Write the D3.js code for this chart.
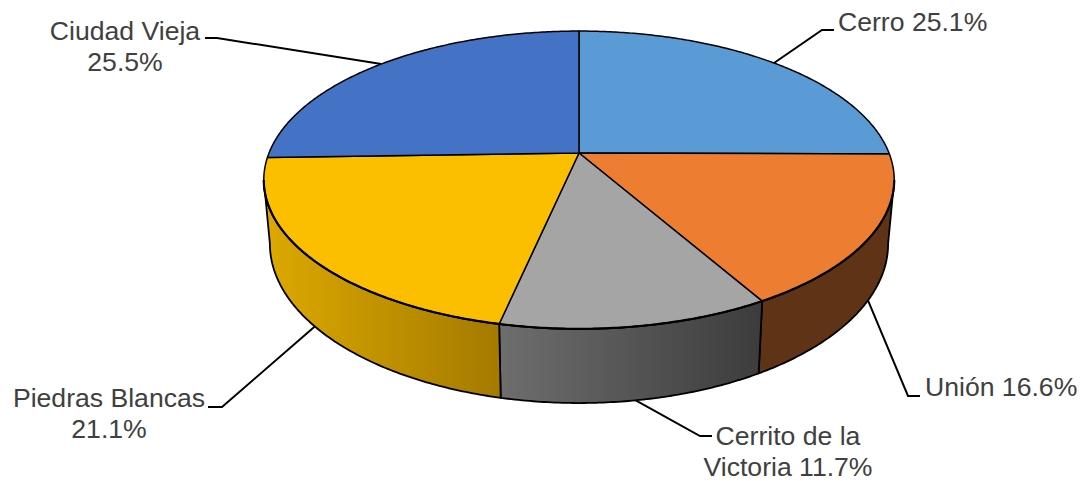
<!DOCTYPE html>
<html>
<head>
<meta charset="utf-8">
<script src="https://cdn.jsdelivr.net/npm/d3@7"></script>
<style>
    body { margin: 0; background: #fff; }
    svg { display: block; }
    .label { font-family: "Liberation Sans", Arial, sans-serif; font-size: 26.6px; fill: #404040; }
</style>
</head>
<body>
<div id="chart"></div>
<script>
// data
let categories = ["Cerro", "Unión", "Cerrito de la Victoria", "Piedras Blancas", "Ciudad Vieja"];
let shares = [25.1, 16.6, 11.7, 21.1, 25.5];
let labelLines = [
    ["Cerro 25.1%"],
    ["Unión 16.6%"],
    ["Cerrito de la", "Victoria 11.7%"],
    ["Piedras Blancas", "21.1%"],
    ["Ciudad Vieja", "25.5%"]
];

// styles and label placement, same order as categories
let topColors = ["#5B9BD5", "#ED7D31", "#A5A5A5", "#FCBF00", "#4472C4"];
let sideColors = [
    ["#5B9BD5", "#5B9BD5"],
    ["#5F3315", "#5F3315"],
    ["#6E6E6E", "#3C3C3C"],
    ["#DDA900", "#A47A00"],
    ["#4472C4", "#4472C4"]
];
let labelLayout = [
    {x: 838, y: 31, anchor: "start", elbow: [[822, 30], [834, 30]], face: "top"},
    {x: 925, y: 396, anchor: "start", elbow: [[908, 396], [920, 396]], face: "bottom"},
    {x: 788, y: 445, anchor: "middle", elbow: [[700, 436], [712, 436]], face: "bottom"},
    {x: 109, y: 407, anchor: "middle", elbow: [[222, 407], [208, 407]], face: "bottom"},
    {x: 125, y: 40, anchor: "middle", elbow: [[217, 38], [205, 38]], face: "top"}
];

let width = 1082, height = 481;

// pie geometry: perspective projection of a tilted disc
let cx = 579, cy = 153, k = 0.181;
let topFace = {r: 310, a: 144, dy: 0};
let bottomFace = {r: 304, a: 154, dy: 62};

function project(angle, face) {
    let x = Math.sin(angle), y = -Math.cos(angle);
    let w = 1 - k * y;
    return [cx + face.r * x / w, cy + face.dy + face.a * y / w];
}

function arcPoints(a0, a1, face) {
    let n = Math.max(2, Math.ceil(Math.abs(a1 - a0) / 0.01));
    return d3.range(n + 1).map(i => project(a0 + (a1 - a0) * i / n, face));
}

let svg = d3.select("#chart").append("svg")
    .attr("width", width)
    .attr("height", height);

let defs = svg.append("defs");
let line = d3.line();

let slices = d3.pie().sort(null).value(d => d)(shares);

// rim is only visible between the two silhouette angles
let rimStart = Math.PI - Math.acos(k);
let rimEnd = Math.PI + Math.acos(k);

slices.forEach((s, i) => {
    let a0 = Math.max(s.startAngle, rimStart);
    let a1 = Math.min(s.endAngle, rimEnd);
    if (a1 <= a0) return;

    let grad = defs.append("linearGradient").attr("id", "side" + i);
    grad.append("stop").attr("offset", "0%").attr("stop-color", sideColors[i][0]);
    grad.append("stop").attr("offset", "100%").attr("stop-color", sideColors[i][1]);

    let pts = arcPoints(a0, a1, topFace).concat(arcPoints(a1, a0, bottomFace));
    svg.append("path")
        .attr("d", line(pts) + "Z")
        .attr("fill", `url(#side${i})`)
        .attr("stroke", "#000")
        .attr("stroke-width", 1.8)
        .attr("stroke-linejoin", "round");
});

// top face
slices.forEach((s, i) => {
    let pts = [[cx, cy]].concat(arcPoints(s.startAngle, s.endAngle, topFace));
    svg.append("path")
        .attr("d", line(pts) + "Z")
        .attr("fill", topColors[i])
        .attr("stroke", "#000")
        .attr("stroke-width", 1.5)
        .attr("stroke-linejoin", "round");
});

// heavier line where the top face meets the rim
svg.append("path")
    .attr("d", line(arcPoints(rimStart, rimEnd, topFace)))
    .attr("fill", "none")
    .attr("stroke", "#000")
    .attr("stroke-width", 2.2);

// leaders and labels
slices.forEach((s, i) => {
    let l = labelLayout[i];
    let mid = (s.startAngle + s.endAngle) / 2;
    let anchorPt = project(mid, l.face === "top" ? topFace : bottomFace);

    svg.append("path")
        .attr("d", line([anchorPt, l.elbow[0], l.elbow[1]]))
        .attr("fill", "none")
        .attr("stroke", "#000")
        .attr("stroke-width", 2);

    labelLines[i].forEach((t, j) => {
        svg.append("text")
            .attr("class", "label")
            .attr("x", l.x)
            .attr("y", l.y + j * 31)
            .attr("text-anchor", l.anchor)
            .text(t);
    });
});
</script>
</body>
</html>
